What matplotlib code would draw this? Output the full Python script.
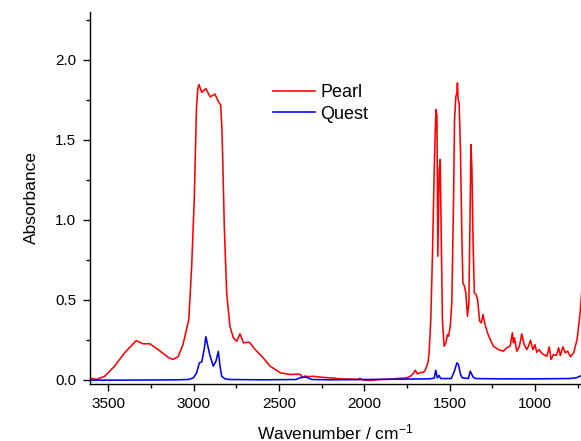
import matplotlib
matplotlib.use("Agg")
import matplotlib.pyplot as plt
from matplotlib.ticker import MultipleLocator, FormatStrFormatter

plt.rcParams['font.family'] = ['Liberation Sans', 'DejaVu Sans']
plt.rcParams['mathtext.default'] = 'regular'

# Pearl spectrum (wavenumber, absorbance)
pearl_wn = [3609, 3570, 3521, 3463, 3404, 3336, 3296, 3257, 3208, 3149, 3121, 3091,
            3062, 3042, 3028, 3011, 2996, 2983, 2975, 2968, 2952, 2928, 2903, 2875,
            2855, 2841, 2835, 2829, 2820, 2806, 2787, 2767, 2747, 2728, 2708, 2673,
            2639, 2600, 2551, 2492, 2433, 2386, 2370, 2365, 2346, 2335, 2297, 2250,
            2199, 2140, 2060, 2042, 2025, 2010, 1966, 1907, 1850, 1809, 1751, 1730,
            1712, 1701, 1688, 1670, 1654, 1644, 1626, 1620, 1610, 1600, 1590, 1580,
            1574, 1569, 1561, 1555, 1549, 1542, 1532, 1522, 1512, 1506, 1496, 1487,
            1477, 1471, 1463, 1457, 1454, 1450, 1444, 1436, 1428, 1422, 1413, 1405,
            1395, 1387, 1379, 1375, 1369, 1363, 1355, 1345, 1336, 1324, 1314, 1304,
            1295, 1278, 1262, 1243, 1214, 1185, 1165, 1145, 1132, 1126, 1120, 1106,
            1091, 1077, 1063, 1048, 1038, 1026, 1012, 1000, 989, 975, 963, 950,
            930, 916, 906, 891, 875, 861, 851, 836, 822, 808, 792, 773,
            753, 735, 726]
pearl_abs = [0.012, 0.002, 0.022, 0.085, 0.169, 0.245, 0.225, 0.225, 0.189, 0.141, 0.127, 0.144,
             0.220, 0.314, 0.377, 0.710, 1.126, 1.700, 1.820, 1.845, 1.796, 1.820, 1.768, 1.785,
             1.740, 1.715, 1.595, 1.376, 0.960, 0.543, 0.335, 0.262, 0.241, 0.287, 0.231, 0.235,
             0.189, 0.147, 0.085, 0.044, 0.033, 0.036, 0.030, 0.012, 0.024, 0.020, 0.022, 0.016,
             0.012, 0.006, 0.004, 0.002, 0.008, 0.000, -0.004, 0.002, 0.004, 0.008, 0.012, 0.022,
             0.040, 0.060, 0.037, 0.045, 0.047, 0.056, 0.110, 0.170, 0.377, 0.793, 1.314, 1.688,
             1.647, 0.772, 1.314, 1.376, 0.897, 0.377, 0.210, 0.231, 0.283, 0.272, 0.335, 0.481,
             1.106, 1.626, 1.771, 1.793, 1.855, 1.751, 1.730, 1.418, 0.897, 0.606, 0.585, 0.543,
             0.397, 0.481, 1.106, 1.470, 1.314, 0.897, 0.543, 0.533, 0.502, 0.366, 0.356, 0.408,
             0.356, 0.294, 0.252, 0.210, 0.189, 0.179, 0.200, 0.210, 0.294, 0.231, 0.262, 0.179,
             0.210, 0.287, 0.220, 0.189, 0.210, 0.247, 0.189, 0.220, 0.172, 0.189, 0.169, 0.158,
             0.147, 0.206, 0.127, 0.158, 0.152, 0.200, 0.152, 0.206, 0.169, 0.179, 0.144, 0.169,
             0.252, 0.418, 0.550]

# Quest spectrum (wavenumber, absorbance)
quest_wn = [3609, 3400, 3100, 3030, 3001, 2982, 2966, 2952, 2938, 2928, 2908, 2885,
            2869, 2855, 2845, 2835, 2816, 2790, 2600, 2400, 2368, 2338, 2308, 2200,
            2000, 1800, 1620, 1590, 1581, 1572, 1562, 1552, 1490, 1472, 1457, 1448,
            1436, 1425, 1390, 1379, 1363, 1350, 1200, 1000, 800, 760, 726]
quest_abs = [-0.002, -0.002, 0.000, 0.002, 0.012, 0.044, 0.106, 0.112, 0.189, 0.270, 0.169, 0.085,
             0.116, 0.178, 0.085, 0.022, 0.006, 0.002, 0.000, 0.002, 0.016, 0.016, 0.002, 0.000,
             0.002, 0.004, 0.006, 0.010, 0.060, 0.012, 0.027, 0.008, 0.008, 0.054, 0.106, 0.096,
             0.033, 0.012, 0.008, 0.054, 0.019, 0.008, 0.006, 0.006, 0.008, 0.012, 0.027]

series_labels = ["Pearl", "Quest"]

W, H = 581, 441
fig = plt.figure(figsize=(W / 100, H / 100), dpi=100)
ax = fig.add_axes([90.3 / W, 1 - 383.5 / H, 1 - 90.3 / W, (383.5 - 11.7) / H])

ax.plot(pearl_wn, pearl_abs, color='#ff0000', lw=1.15, label=series_labels[0])
ax.plot(quest_wn, quest_abs, color='#0000ff', lw=1.15, label=series_labels[1])

ax.set_xlim(3605, 730)
ax.set_ylim(-0.023, 2.30)

for s in ['top', 'right']:
    ax.spines[s].set_visible(False)
for s in ['left', 'bottom']:
    ax.spines[s].set_linewidth(1.0)

ax.xaxis.set_major_locator(MultipleLocator(500))
ax.xaxis.set_minor_locator(MultipleLocator(250))
ax.yaxis.set_major_locator(MultipleLocator(0.5))
ax.yaxis.set_minor_locator(MultipleLocator(0.25))
ax.yaxis.set_major_formatter(FormatStrFormatter('%.1f'))
ax.tick_params(which='major', direction='out', length=5, width=1.0, labelsize=11, pad=5)
ax.tick_params(which='minor', direction='out', length=3, width=1.0)

ax.set_ylabel('Absorbance', fontsize=12.5)
ax.set_xlabel('Wavenumber / cm$^{-1}$', fontsize=12.5)
ax.yaxis.set_label_coords((39 - 90.3) / 490.7, 0.5)
ax.xaxis.set_label_coords(0.5, (383.5 - 422) / 371.8)

fig.legend(loc='upper left', bbox_to_anchor=(273 / W, 1 - 84 / H), frameon=False,
           fontsize=13, handlelength=2.33, handletextpad=0.28, labelspacing=0.26,
           borderpad=0, borderaxespad=0)

fig.savefig('out.png', dpi=100)
